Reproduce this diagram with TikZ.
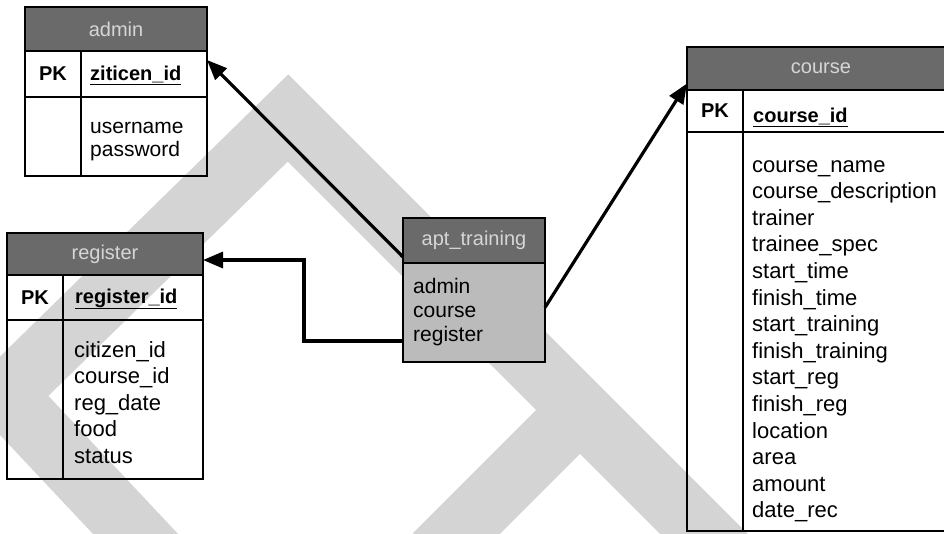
\documentclass[tikz,border=0pt]{standalone}
\usepackage{fontspec}
\setmainfont{Liberation Sans}
\usetikzlibrary{arrows.meta}
\definecolor{wmark}{HTML}{D4D4D4}
\definecolor{hdrfill}{HTML}{6A6A6A}
\definecolor{hdrtext}{HTML}{D6D6D6}
\definecolor{bodyfill}{HTML}{BBBBBB}

\begin{document}
\begin{tikzpicture}[x=1pt,y=-1pt,
  cell/.style={draw=black, line width=2.4pt, anchor=north west, inner sep=0pt, outer sep=0pt},
  hdr/.style={cell, fill=hdrfill, text=hdrtext, font=\fontsize{20}{22}\selectfont},
  pkcell/.style={cell, font=\fontsize{20}{22}\selectfont\bfseries},
  keytxt/.style={anchor=base west, inner sep=0pt, font=\fontsize{20}{22}\selectfont\bfseries},
  attr/.style={anchor=base west, inner sep=0pt, font=\fontsize{21}{23}\selectfont},
  link/.style={line width=3.2pt, -{Triangle[length=20pt,width=16pt]}},
]
\clip (0,0) rectangle (944,533);
\fill[white] (0,0) rectangle (944,533);

% background watermark bands
\draw[wmark, line width=62pt, line join=miter, miter limit=4]
  (160,560) -- (5,395) -- (288,118) -- (740,570);
\draw[wmark, line width=62pt] (435,555) -- (595,395);

% ---- admin ----
\node[hdr, minimum width=182pt, minimum height=44pt] (adminH) at (25,7) {admin};
\node[pkcell, minimum width=56pt, minimum height=46pt] (adminPK) at (25,51) {PK};
\node[cell, minimum width=126pt, minimum height=46pt] (adminK) at (81,51) {};
\node[cell, minimum width=56pt, minimum height=79pt] (adminPKb) at (25,97) {};
\node[cell, minimum width=126pt, minimum height=79pt] (adminB) at (81,97) {};
\node[keytxt] (adminKey) at (90,80) {\underline{ziticen\_id}};
\node[attr] (adm1) at (90,133) {username};
\node[attr] (adm2) at (90,156) {password};

% ---- register ----
\node[hdr, minimum width=196pt, minimum height=42pt] (regH) at (7,233) {register};
\node[pkcell, minimum width=56pt, minimum height=45pt] (regPK) at (7,275) {PK};
\node[cell, minimum width=140pt, minimum height=45pt] (regK) at (63,275) {};
\node[cell, minimum width=56pt, minimum height=159pt] (regPKb) at (7,320) {};
\node[cell, minimum width=140pt, minimum height=159pt] (regB) at (63,320) {};
\node[keytxt] (regKey) at (75,303) {\underline{register\_id}};
\foreach \t [count=\i from 0] in {citizen\_id, course\_id, reg\_date, food, status}
  \node[attr, font=\fontsize{22}{24}\selectfont] (reg-\i) at (74,357+26.5*\i) {\t};

% ---- apt_training ----
\node[hdr, minimum width=142pt, minimum height=45pt] (aptH) at (403,218) {apt\_training};
\node[cell, fill=bodyfill, minimum width=142pt, minimum height=99pt] (aptB) at (403,263) {};
\node[attr] (apt1) at (413,293) {admin};
\node[attr] (apt2) at (413,317) {course};
\node[attr] (apt3) at (413,341) {register};

% ---- course ----
\node[hdr, minimum width=268pt, minimum height=43pt] (courseH) at (687,47) {course};
\node[pkcell, minimum width=56pt, minimum height=42pt] (coursePK) at (687,90) {PK};
\node[cell, minimum width=212pt, minimum height=42pt] (courseK) at (743,90) {};
\node[cell, minimum width=56pt, minimum height=399pt] (coursePKb) at (687,132) {};
\node[cell, minimum width=212pt, minimum height=399pt] (courseB) at (743,132) {};
\node[keytxt] (courseKey) at (753,122) {\underline{course\_id}};
\foreach \t [count=\i from 0] in {course\_name, course\_description, trainer,
    trainee\_spec, start\_time, finish\_time, start\_training, finish\_training,
    start\_reg, finish\_reg, location, area, amount, date\_rec}
  \node[attr, font=\fontsize{22}{24}\selectfont] (crs-\i) at (752,172+26.6*\i) {\t};

% ---- relationships ----
\draw[link] ([yshift=6pt]aptH.south west) -- ([yshift=-9pt]adminH.south east);
\draw[link] (aptB.west |- apt3.base) -- ++(-99,0) |- ([yshift=-6pt]regH.east);
\draw[link] ([yshift=5pt]aptB.east) -- ([yshift=-15pt]courseH.west);
\end{tikzpicture}
\end{document}
